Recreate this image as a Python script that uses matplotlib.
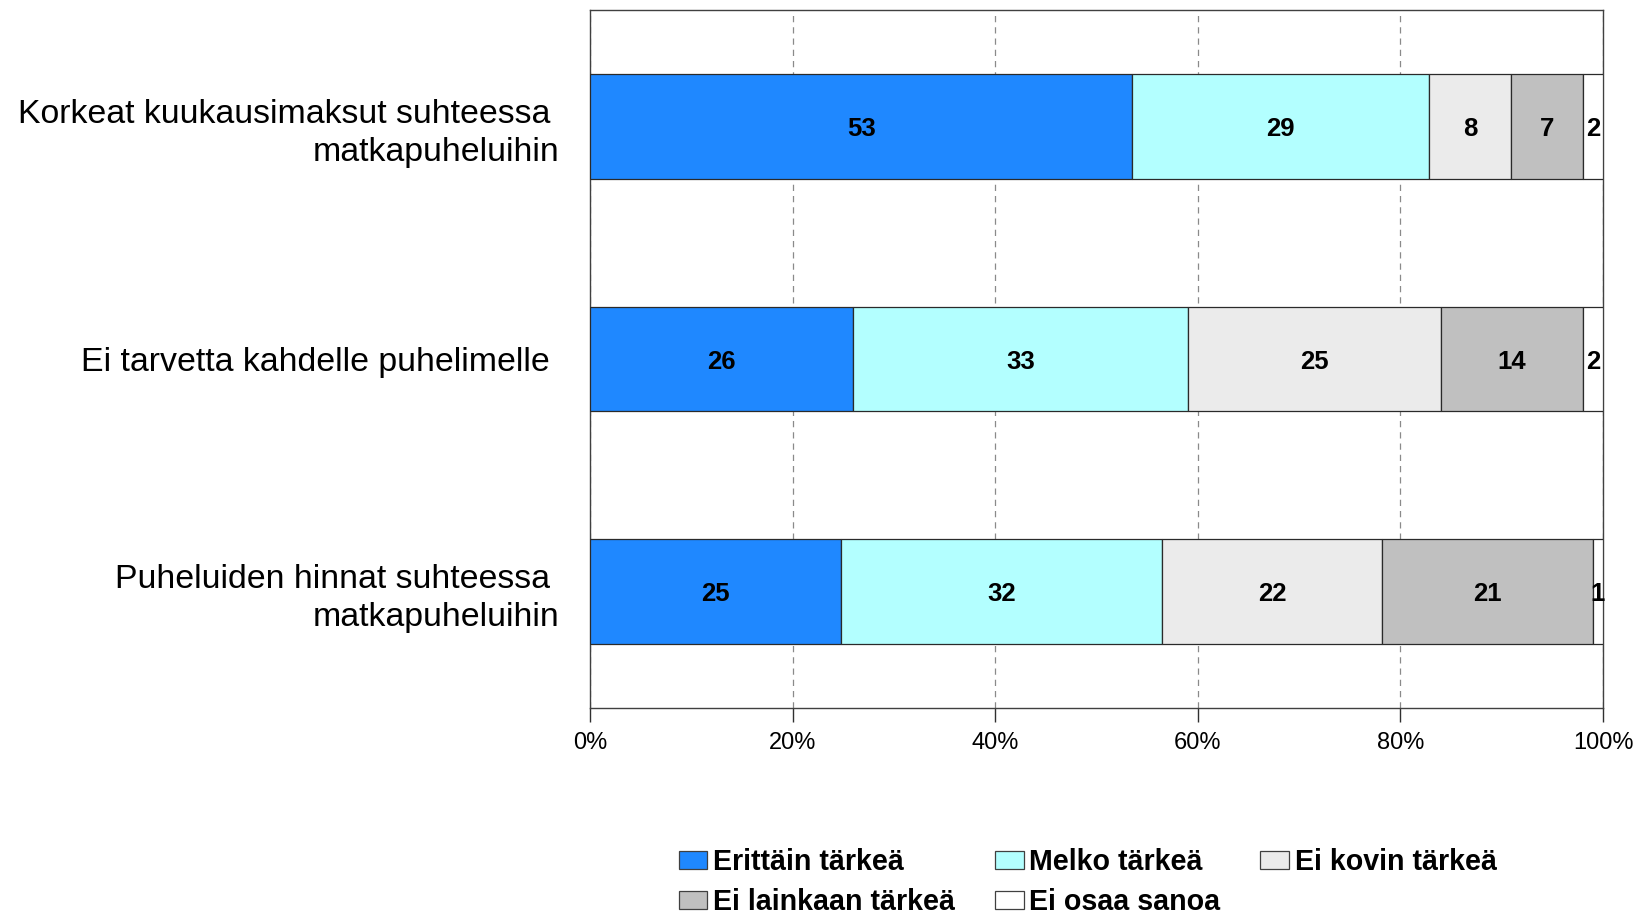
import matplotlib
matplotlib.use("Agg")
import matplotlib.pyplot as plt
import numpy as np
from matplotlib.patches import Patch

plt.rcParams['font.family'] = ['Liberation Sans', 'DejaVu Sans']

categories = [
    "Korkeat kuukausimaksut suhteessa \nmatkapuheluihin",
    "Ei tarvetta kahdelle puhelimelle ",
    "Puheluiden hinnat suhteessa \nmatkapuheluihin",
]
series = ["Erittäin tärkeä", "Melko tärkeä", "Ei kovin tärkeä",
          "Ei lainkaan tärkeä", "Ei osaa sanoa"]
values = np.array([
    [53, 29, 8, 7, 2],
    [26, 33, 25, 14, 2],
    [25, 32, 22, 21, 1],
])
colors = ["#1f88ff", "#b3ffff", "#ebebeb", "#c0c0c0", "#ffffff"]
xticks = [0, 20, 40, 60, 80, 100]
xticklabels = ["0%", "20%", "40%", "60%", "80%", "100%"]

# 100% stacked: normalise each row by its own sum
shares = values / values.sum(axis=1, keepdims=True) * 100

fig = plt.figure(figsize=(16.43, 9.19), dpi=100)
ax = fig.add_axes([0.3591, 0.2296, 0.6166, 0.7595])

y = np.arange(len(categories))
left = np.zeros(len(categories))
for j, name in enumerate(series):
    ax.barh(y, shares[:, j], left=left, height=0.45, color=colors[j],
            edgecolor="#2a2a2a", linewidth=0.9, label=name, zorder=3)
    for i in range(len(categories)):
        ax.text(left[i] + shares[i, j] / 2, y[i], str(values[i, j]),
                ha="center", va="center_baseline", fontsize=18.5,
                fontweight="bold", color="black", zorder=4)
    left += shares[:, j]

ax.set_xlim(0, 100)
ax.set_ylim(2.5, -0.5)
ax.set_xticks(xticks)
ax.set_xticklabels(xticklabels, fontsize=17)
ax.set_yticks(y)
ax.set_yticklabels(categories, fontsize=24.4)
for t in ax.get_yticklabels():
    t.set_linespacing(1.3)
ax.tick_params(axis="y", length=0, pad=22)
ax.tick_params(axis="x", length=10, width=1, color="#303030", pad=7)

ax.xaxis.grid(True, linestyle=(0, (5, 4)), color="#8a8a8a", linewidth=0.9)
ax.set_axisbelow(True)
for s in ax.spines.values():
    s.set_color("#404040")
    s.set_linewidth(1.0)

handles = [Patch(facecolor=c, edgecolor="#404040", linewidth=0.9) for c in colors]
order = [0, 3, 1, 4, 2]
leg = fig.legend([handles[k] for k in order], [series[k] for k in order],
                 loc="upper left", bbox_to_anchor=(0.413, 0.077), ncol=3,
                 frameon=False, borderaxespad=0, borderpad=0,
                 handlelength=1.0, handleheight=0.62, handletextpad=0.2,
                 columnspacing=1.4, labelspacing=0.42,
                 prop={"size": 20.6, "weight": "bold"})

fig.savefig("out.png", dpi=100)
